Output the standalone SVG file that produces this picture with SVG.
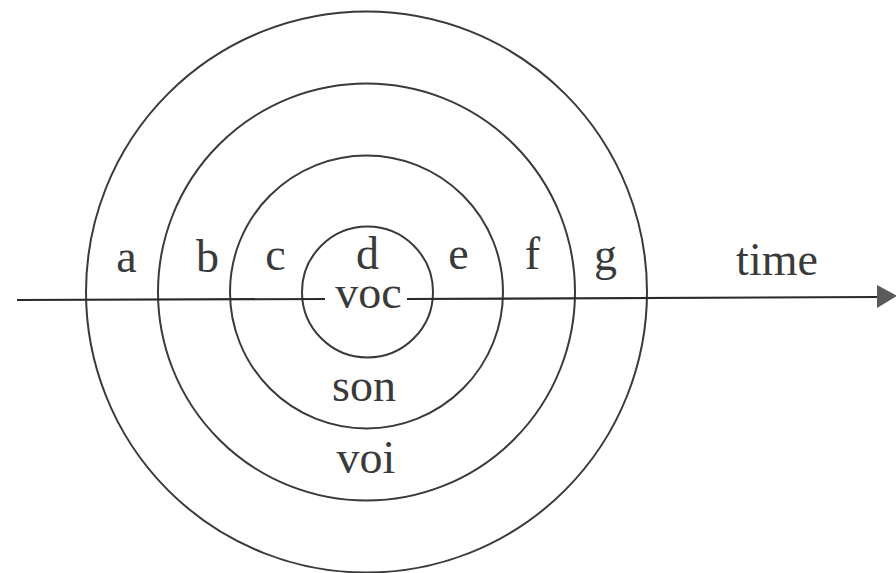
<svg xmlns="http://www.w3.org/2000/svg" width="896" height="573" viewBox="0 0 896 573">
<defs>
<style>
.ring{fill:none;stroke:#3a3a3a;stroke-width:2}
.lbl{font-family:"Liberation Serif","Times New Roman",serif;font-size:46px;fill:#3a3a3a;text-anchor:middle}
.axis{stroke:#2a2a2a;stroke-width:2.2;fill:none}
</style>
<marker id="arr" markerUnits="userSpaceOnUse" markerWidth="20" markerHeight="24" refX="0" refY="12" orient="auto">
<path d="M0,0 L20,11 L0,23 Z" fill="#5a5a5a"/>
</marker>
</defs>
<rect width="896" height="573" fill="#fff"/>
<g id="ring-outer"><circle class="ring" cx="366.5" cy="292" r="280.5"/></g>
<g id="ring-voi"><circle class="ring" cx="366.5" cy="292" r="208.5"/><text class="lbl" x="366" y="473">voi</text></g>
<g id="ring-son"><circle class="ring" cx="366.5" cy="292" r="136.5"/><text class="lbl" x="364" y="401">son</text></g>
<g id="ring-voc"><circle class="ring" cx="367.5" cy="292" r="65.5"/><text class="lbl" x="368.5" y="308">voc</text></g>
<g id="labels">
<text class="lbl" x="126.5" y="272">a</text>
<text class="lbl" x="207.5" y="272">b</text>
<text class="lbl" x="275.5" y="270">c</text>
<text class="lbl" x="367.5" y="269">d</text>
<text class="lbl" x="458.5" y="269">e</text>
<text class="lbl" x="532.5" y="269">f</text>
<text class="lbl" x="605.5" y="270">g</text>
<text class="lbl" x="777" y="275">time</text>
</g>
<g id="connectors">
<line class="axis" x1="17" y1="300" x2="325" y2="299"/>
<line class="axis" x1="407" y1="299" x2="877" y2="297" marker-end="url(#arr)"/>
</g>
</svg>
